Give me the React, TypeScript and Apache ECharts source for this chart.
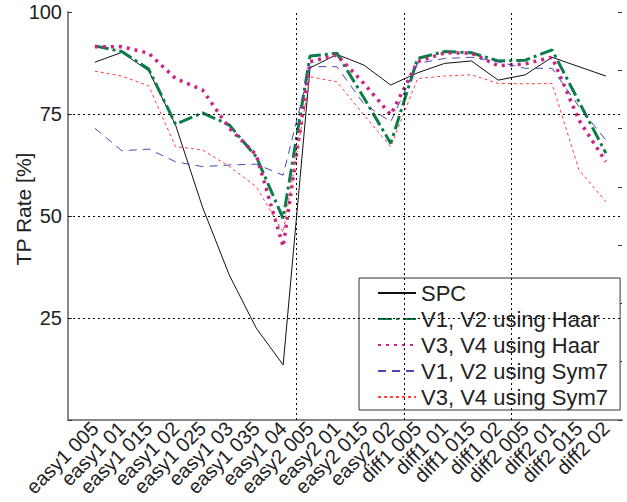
import React, { useEffect, useRef } from "react";
import * as echarts from "echarts";

const categories = [
  "easy1 005", "easy1 01", "easy1 015", "easy1 02", "easy1 025", "easy1 03", "easy1 035", "easy1 04",
  "easy2 005", "easy2 01", "easy2 015", "easy2 02",
  "diff1 005", "diff1 01", "diff1 015", "diff1 02",
  "diff2 005", "diff2 01", "diff2 015", "diff2 02",
];

const spc = [87.7, 90.1, 85.6, 72.3, 52.2, 35.5, 22.5, 13.5, 86.3, 89.6, 87.0, 82.1, 85.1, 87.4, 88.0, 83.3, 84.6, 88.9, 86.6, 84.3];
const v12Haar = [91.7, 90.3, 86.0, 72.5, 75.3, 72.3, 64.5, 49.4, 89.2, 89.9, 79.0, 67.8, 88.6, 90.3, 90.0, 88.0, 88.2, 90.7, 78.0, 65.4];
const v34Haar = [91.5, 91.5, 89.9, 83.7, 80.9, 71.5, 65.0, 42.5, 87.8, 89.5, 82.5, 74.8, 87.8, 90.0, 89.9, 86.8, 87.3, 88.9, 73.5, 63.3];
const v12Sym7 = [71.5, 66.0, 66.4, 63.3, 62.1, 62.5, 62.7, 60.0, 86.6, 86.6, 77.5, 73.1, 87.4, 88.6, 88.9, 87.8, 86.2, 86.2, 76.8, 68.6];
const v34Sym7 = [85.5, 84.3, 81.9, 67.0, 66.2, 62.1, 57.2, 46.0, 84.1, 82.9, 74.8, 67.0, 83.7, 84.3, 84.6, 82.5, 82.4, 82.5, 61.3, 53.5];

const yTicks = [25, 50, 75, 100];
const groupBoundaries = [8.5, 12.5, 16.5];

const FONT = "Liberation Sans, Arial, Helvetica, sans-serif";

const toXY = (arr: number[]) => arr.map((v, i) => [i + 1, v]);

export default function App() {
  const ref = useRef<HTMLDivElement>(null);
  useEffect(() => {
    if (!ref.current) return;
    const chart = echarts.init(ref.current, undefined, { renderer: "svg" });
    const dotted = { type: [2, 3] as any, color: "#000", width: 1 };
    chart.setOption({
      animation: false,
      backgroundColor: "#fff",
      textStyle: { fontFamily: FONT },
      grid: { left: 68, right: 5, top: 12, bottom: 82, containLabel: false, outerBoundsMode: "none" },
      xAxis: {
        type: "value",
        min: 0,
        max: 20.6,
        interval: 1,
        axisLine: { show: true, lineStyle: { color: "#888", width: 2 } },
        axisTick: { show: false },
        splitLine: { show: false },
        axisLabel: {
          rotate: 45,
          fontSize: 20,
          color: "#222",
          margin: 5,
          fontFamily: FONT,
          hideOverlap: false,
          formatter: (v: number) => {
            const i = Math.round(v);
            if (Math.abs(v - i) > 1e-6 || i < 1 || i > categories.length) return "";
            return categories[i - 1];
          },
        },
      },
      yAxis: [
        {
          type: "value",
          min: 0,
          max: 100,
          interval: 25,
          name: "TP Rate [%]",
          nameLocation: "middle",
          nameGap: 34,
          nameMoveOverlap: false,
          nameTextStyle: { fontSize: 21, color: "#222", fontFamily: FONT, padding: [0, 0, 0, 14] },
          axisLine: { show: true, lineStyle: { color: "#888", width: 2 } },
          axisTick: { show: true, inside: true, length: 4, lineStyle: { color: "#333" } },
          splitLine: { show: false },
          axisLabel: {
            fontSize: 20,
            color: "#222",
            margin: 6,
            fontFamily: FONT,
            formatter: (v: number) => (yTicks.includes(v) ? String(v) : ""),
          },
        },
        {
          type: "value",
          position: "right",
          min: 0,
          max: 7,
          interval: 1,
          axisLine: { show: false },
          axisTick: { show: true, inside: true, length: 4, lineStyle: { color: "#333" } },
          axisLabel: { show: false },
          splitLine: { show: false },
        },
      ],
      legend: {
        orient: "vertical",
        left: 359,
        top: 278,
        backgroundColor: "#fff",
        borderColor: "#333",
        borderWidth: 1,
        padding: [4, 12, 2, 18],
        itemWidth: 38,
        itemHeight: 14,
        itemGap: 4,
        itemStyle: { opacity: 0 },
        textStyle: { fontSize: 22, color: "#222", fontFamily: FONT },
        data: [
          "SPC",
          "V1, V2 using Haar",
          "V3, V4 using Haar",
          "V1, V2 using Sym7",
          "V3, V4 using Sym7",
        ],
      },
      series: [
        {
          name: "SPC",
          type: "line",
          symbol: "none",
          data: toXY(spc),
          lineStyle: { color: "#111", width: 1 },
          itemStyle: { color: "#111" },
          markLine: {
            silent: true,
            symbol: "none",
            label: { show: false },
            lineStyle: dotted,
            data: [
              ...yTicks.filter((t) => t < 100).map((t) => ({ yAxis: t })),
              ...groupBoundaries.map((b) => ({ xAxis: b })),
            ],
          },
        },
        {
          name: "V1, V2 using Haar",
          type: "line",
          symbol: "none",
          data: toXY(v12Haar),
          lineStyle: { color: "#0b7d48", width: 3, type: [14, 4, 3, 4] },
          itemStyle: { color: "#0b7d48" },
        },
        {
          name: "V3, V4 using Haar",
          type: "line",
          symbol: "none",
          data: toXY(v34Haar),
          lineStyle: { color: "#cc2288", width: 3.5, type: [3, 5] },
          itemStyle: { color: "#cc2288" },
        },
        {
          name: "V1, V2 using Sym7",
          type: "line",
          symbol: "none",
          data: toXY(v12Sym7),
          lineStyle: { color: "#4848b8", width: 1, type: [8, 6] },
          itemStyle: { color: "#4848b8" },
        },
        {
          name: "V3, V4 using Sym7",
          type: "line",
          symbol: "none",
          data: toXY(v34Sym7),
          lineStyle: { color: "#ff4040", width: 1, type: [3, 3] },
          itemStyle: { color: "#ff4040" },
        },
      ],
    });
    return () => chart.dispose();
  }, []);
  return (
    <div
      ref={ref}
      style={{ position: "fixed", left: 0, top: 0, width: 627, height: 502, background: "#fff" }}
    />
  );
}
